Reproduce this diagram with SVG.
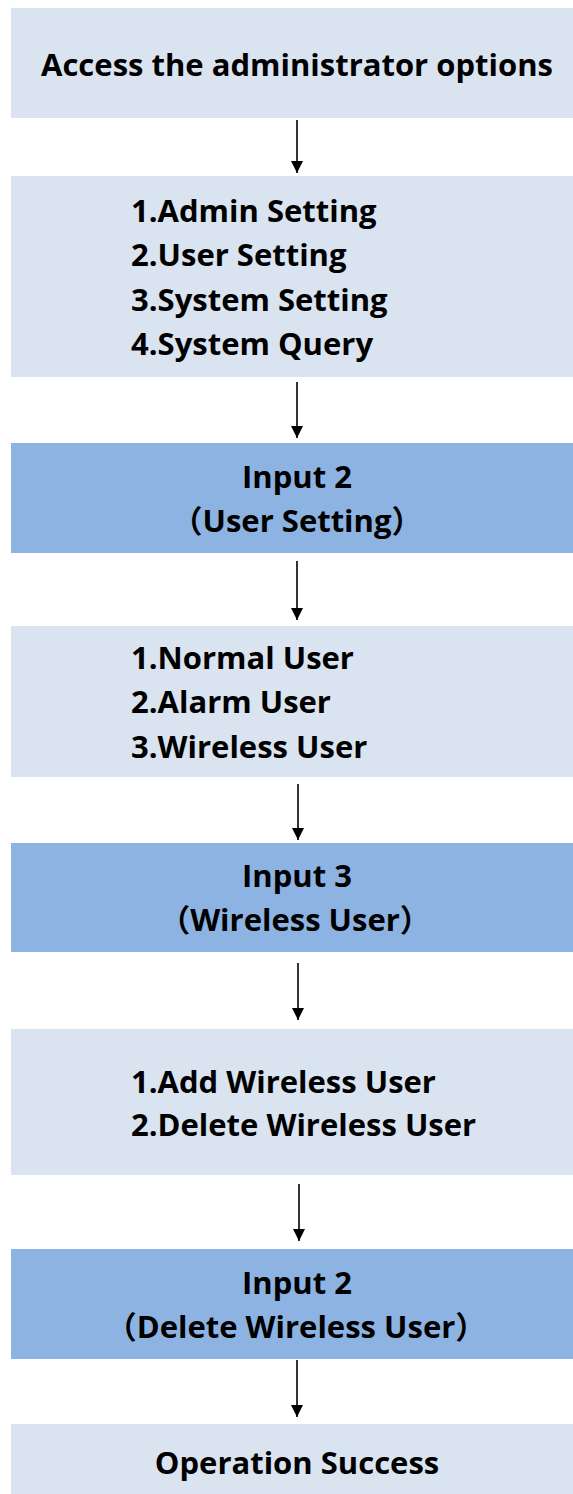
<svg xmlns="http://www.w3.org/2000/svg" width="573" height="1494" viewBox="0 0 573 1494">
<style>
.l{fill:#DAE3F0}
.d{fill:#8DB3E2}
text{font-family:"Open Sans","Noto Sans CJK SC",sans-serif;font-weight:bold;font-size:31px;fill:#000}
.c{text-anchor:middle}
.cn{stroke:#000;stroke-width:1.6;fill:none}
</style>
<defs>
<marker id="ah" viewBox="0 0 10 10" refX="10" refY="5" markerWidth="12" markerHeight="12" markerUnits="userSpaceOnUse" orient="auto">
<path d="M0,0 L10,5 L0,10 Z" fill="#000"/>
</marker>
</defs>
<rect width="573" height="1494" fill="#fff"/>
<g id="n1"><rect class="l" x="11" y="8" width="562" height="110"/><text class="c" x="297" y="76">Access the administrator options</text></g>
<g id="n2"><rect class="l" x="11" y="176" width="562" height="201"/>
<text x="131" y="222">1.Admin Setting</text>
<text x="131" y="266">2.User Setting</text>
<text x="131" y="311">3.System Setting</text>
<text x="131" y="355">4.System Query</text></g>
<g id="n3"><rect class="d" x="11" y="443" width="562" height="110"/>
<text class="c" x="297" y="488">Input 2</text>
<text class="c" x="297" y="532">（User Setting）</text></g>
<g id="n4"><rect class="l" x="11" y="626" width="562" height="151"/>
<text x="131" y="669">1.Normal User</text>
<text x="131" y="713">2.Alarm User</text>
<text x="131" y="758">3.Wireless User</text></g>
<g id="n5"><rect class="d" x="11" y="843" width="562" height="109"/>
<text class="c" x="297" y="887">Input 3</text>
<text class="c" x="295" y="931">（Wireless User）</text></g>
<g id="n6"><rect class="l" x="11" y="1029" width="562" height="146"/>
<text x="131" y="1093">1.Add Wireless User</text>
<text x="131" y="1136">2.Delete Wireless User</text></g>
<g id="n7"><rect class="d" x="11" y="1249" width="562" height="110"/>
<text class="c" x="297" y="1294">Input 2</text>
<text class="c" x="296" y="1338">（Delete Wireless User）</text></g>
<g id="n8"><rect class="l" x="11" y="1424" width="562" height="70"/>
<text class="c" x="297" y="1474">Operation Success</text></g>
<g id="connectors">
<line class="cn" x1="297" y1="120" x2="297" y2="173" marker-end="url(#ah)"/>
<line class="cn" x1="297" y1="382" x2="297" y2="438" marker-end="url(#ah)"/>
<line class="cn" x1="297" y1="561" x2="297" y2="620" marker-end="url(#ah)"/>
<line class="cn" x1="298" y1="784" x2="298" y2="840" marker-end="url(#ah)"/>
<line class="cn" x1="298" y1="963" x2="298" y2="1020" marker-end="url(#ah)"/>
<line class="cn" x1="299" y1="1184" x2="299" y2="1241" marker-end="url(#ah)"/>
<line class="cn" x1="297" y1="1360" x2="297" y2="1417" marker-end="url(#ah)"/>
</g>
</svg>
